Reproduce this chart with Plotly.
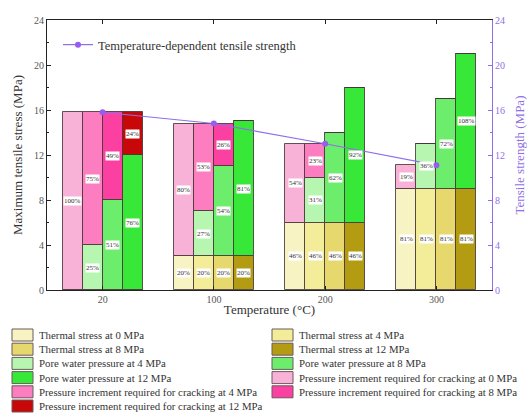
import plotly.graph_objects as go

# Categories: temperature (°C) and the four pore-water pressure levels (MPa)
temperatures = ["20", "100", "200", "300"]
pressure_levels = ["0", "4", "8", "12"]

# Temperature-dependent tensile strength (MPa)
tensile_strength = [15.8, 14.8, 13.0, 11.1]

# Thermal stress (MPa) under each pore-water pressure level
thermal_stress_0 = [0, 3, 6, 9]
thermal_stress_4 = [0, 3, 6, 9]
thermal_stress_8 = [0, 3, 6, 9]
thermal_stress_12 = [0, 3, 6, 9]

# Pore-water pressure (MPa)
pore_pressure_4 = [4, 4, 4, 4]
pore_pressure_8 = [8, 8, 8, 8]
pore_pressure_12 = [12, 12, 12, 12]

# Pressure increment still required for cracking (MPa)
increment_0 = [15.8, 11.8, 7.0, 2.1]
increment_4 = [11.8, 7.8, 3.0, 0.0]
increment_8 = [7.8, 3.8, 0.0, 0.0]
increment_12 = [3.8, 0.0, 0.0, 0.0]

SERIF = "Liberation Serif, Times New Roman, serif"
PURPLE = "#8f6fe8"

# name, colour, values, bar slot (pressure level index); stacking order = list order
series = [
    ("Thermal stress at 0 MPa", "#f8f3c2", thermal_stress_0, 0),
    ("Thermal stress at 4 MPa", "#f3ec98", thermal_stress_4, 1),
    ("Thermal stress at 8 MPa", "#e6d86c", thermal_stress_8, 2),
    ("Thermal stress at 12 MPa", "#b39c12", thermal_stress_12, 3),
    ("Pore water pressure at 4 MPa", "#b6f6b0", pore_pressure_4, 1),
    ("Pore water pressure at 8 MPa", "#6cee6c", pore_pressure_8, 2),
    ("Pore water pressure at 12 MPa", "#38e838", pore_pressure_12, 3),
    ("Pressure increment required for cracking at 0 MPa", "#f8b2d8", increment_0, 0),
    ("Pressure increment required for cracking at 4 MPa", "#fd7ec0", increment_4, 1),
    ("Pressure increment required for cracking at 8 MPa", "#fb40a2", increment_8, 2),
    ("Pressure increment required for cracking at 12 MPa", "#c80808", increment_12, 3),
]

BAR_W = 0.18
slot_offsets = [-1.5 * BAR_W, -0.5 * BAR_W, 0.5 * BAR_W, 1.5 * BAR_W]
group_x = [i + 1 for i in range(len(temperatures))]

fig = go.Figure()
annotations = []
running_top = {s: [0.0] * len(temperatures) for s in range(len(pressure_levels))}

for name, color, values, slot in series:
    xs = [gx + slot_offsets[slot] for gx in group_x]
    bases = list(running_top[slot])
    fig.add_trace(go.Bar(
        x=xs, y=values, base=bases, width=BAR_W, name=name,
        marker=dict(color=color, line=dict(color="rgba(70,55,55,0.85)", width=1)),
        showlegend=False, hoverinfo="skip",
    ))
    for i, v in enumerate(values):
        if v > 0:
            pct = round(v / tensile_strength[i] * 100)
            annotations.append(dict(
                x=xs[i], y=bases[i] + v / 2, xref="x", yref="y",
                text=f"{pct}%", showarrow=False,
                font=dict(family=SERIF, size=7, color="#333333"),
                bgcolor="white", borderpad=0,
            ))
        running_top[slot][i] = bases[i] + v

fig.add_trace(go.Scatter(
    x=group_x, y=tensile_strength, yaxis="y2", mode="lines+markers",
    name="Temperature-dependent tensile strength",
    line=dict(color=PURPLE, width=1.2),
    marker=dict(color="#9a5cf0", size=6, symbol="circle"),
    legend="legend2",
))

# Pixel geometry of the plotting area, used to place the bottom key
PLOT_L, PLOT_R, PLOT_T, PLOT_B = 47, 492, 20, 290


def paper_x(px):
    return (px - PLOT_L) / (PLOT_R - PLOT_L)


def paper_y(py):
    return (PLOT_B - py) / (PLOT_B - PLOT_T)


shapes = []
for k, (name, color, values, slot) in enumerate(series):
    row, col = divmod(k, 2)
    cy = 335 + 14.2 * row
    sx = 12 if col == 0 else 272
    shapes.append(dict(
        type="rect", xref="paper", yref="paper",
        x0=paper_x(sx), x1=paper_x(sx + 21),
        y0=paper_y(cy + 6), y1=paper_y(cy - 6),
        fillcolor=color, line=dict(color="#6a5a5a", width=1),
    ))
    annotations.append(dict(
        x=paper_x(sx + 25), y=paper_y(cy), xref="paper", yref="paper",
        xanchor="left", yanchor="middle", text=name, showarrow=False,
        font=dict(family=SERIF, size=10.8, color="#333333"),
    ))

fig.update_layout(
    width=527, height=413,
    margin=dict(l=PLOT_L, r=527 - PLOT_R, t=PLOT_T, b=413 - PLOT_B),
    paper_bgcolor="white", plot_bgcolor="white",
    barmode="overlay", bargap=0,
    font=dict(family=SERIF, size=10, color="#444444"),
    xaxis=dict(
        range=[0.5, 4.5], tickvals=group_x, ticktext=temperatures,
        ticks="inside", ticklen=4, tickcolor="#222", showline=True,
        linecolor="#222", linewidth=1.2, mirror="ticks", showgrid=False,
        zeroline=False, tickfont=dict(size=10, color="#555555"), automargin=False,
        title=dict(text="Temperature (°C)", font=dict(size=13, color="#333333"), standoff=0),
    ),
    yaxis=dict(
        range=[0, 24], dtick=4, ticks="inside", ticklen=4, tickcolor="#222",
        minor=dict(ticks="inside", ticklen=2, dtick=2, tickcolor="#222"),
        showline=True, linecolor="#222", linewidth=1.2, showgrid=False,
        zeroline=False, tickfont=dict(size=10, color="#555555"), automargin=False,
        title=dict(text="Maximum tensile stress (MPa)", font=dict(size=13, color="#333333"), standoff=8),
    ),
    yaxis2=dict(
        overlaying="y", side="right", range=[0, 24], dtick=4,
        ticks="inside", ticklen=4, tickcolor=PURPLE,
        minor=dict(ticks="inside", ticklen=2, dtick=2, tickcolor=PURPLE),
        showline=True, linecolor=PURPLE, linewidth=1.2, showgrid=False,
        zeroline=False, tickfont=dict(size=10, color=PURPLE), automargin=False,
        title=dict(text="Tensile strength (MPa)", font=dict(size=13, color=PURPLE), standoff=11),
    ),
    legend2=dict(
        x=paper_x(58), y=paper_y(30), xanchor="left", yanchor="top",
        bgcolor="rgba(0,0,0,0)", font=dict(family=SERIF, size=12.5, color="#333333"),
    ),
    shapes=shapes,
    annotations=annotations,
)

fig.write_html("out.html")
